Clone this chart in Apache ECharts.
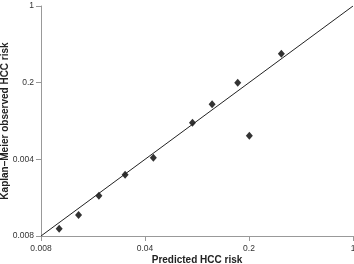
<!DOCTYPE html>
<html>
<head>
<meta charset="utf-8">
<script src="https://cdn.jsdelivr.net/npm/echarts@6/dist/echarts.min.js"></script>
<style>
  html, body { margin: 0; padding: 0; background: #fff; }
  #chart { width: 354px; height: 264px; }
</style>
</head>
<body>
<div id="chart"></div>
<script>
// predicted vs observed HCC risk, log scale
const predicted = [0.0106, 0.0143, 0.0196, 0.0294, 0.0455, 0.0834, 0.113, 0.168, 0.201, 0.33]
const observed = [0.0093, 0.0124, 0.0186, 0.029, 0.0414, 0.0863, 0.127, 0.2, 0.0657, 0.367]
const xTickLabels = ['0.008', '0.04', '0.2', '1']
const yTickLabels = ['0.008', '0.004', '0.2', '1']
const tickValues = [0.008, 0.04, 0.2, 1]
const diagonal = [[0.008, 0.008], [1, 1]]

function labelFor(list) {
  return (v) => {
    const i = tickValues.findIndex((t) => Math.abs(Math.log(t) - Math.log(v)) < 1e-6)
    return i >= 0 ? list[i] : ''
  }
}

const chart = echarts.init(document.getElementById('chart'))
const axisCommon = {
  type: 'log',
  logBase: 5,
  min: 0.008,
  max: 1,
  axisLine: { lineStyle: { color: '#999', width: 1 } },
  axisTick: { show: true, length: 5, lineStyle: { color: '#999' } },
  splitLine: { show: false },
  minorTick: { show: false },
  nameLocation: 'middle',
  nameMoveOverlap: false,
  nameTextStyle: { fontFamily: 'Liberation Sans', fontWeight: 'bold', fontSize: 10, color: '#222' }
}

const tickLabelStyle = { fontFamily: 'Liberation Sans', fontSize: 8.5, color: '#333', margin: 7 }

chart.setOption({
  animation: false,
  grid: { left: 41, right: 1, top: 6, bottom: 28, containLabel: false, outerBoundsMode: 'none' },
  xAxis: {
    ...axisCommon,
    name: 'Predicted HCC risk',
    nameGap: 19,
    axisLabel: { ...tickLabelStyle, margin: 8, formatter: labelFor(xTickLabels) }
  },
  yAxis: {
    ...axisCommon,
    name: 'Kaplan–Meier observed HCC risk',
    nameGap: 31,
    axisLabel: { ...tickLabelStyle, formatter: labelFor(yTickLabels) }
  },
  series: [
    {
      type: 'line',
      data: diagonal,
      symbol: 'none',
      lineStyle: { color: '#222', width: 1 },
      silent: true
    },
    {
      type: 'scatter',
      data: predicted.map((x, i) => [x, observed[i]]),
      symbol: 'diamond',
      symbolSize: [7, 8],
      itemStyle: { color: '#000' }
    }
  ]
})
</script>
</body>
</html>
